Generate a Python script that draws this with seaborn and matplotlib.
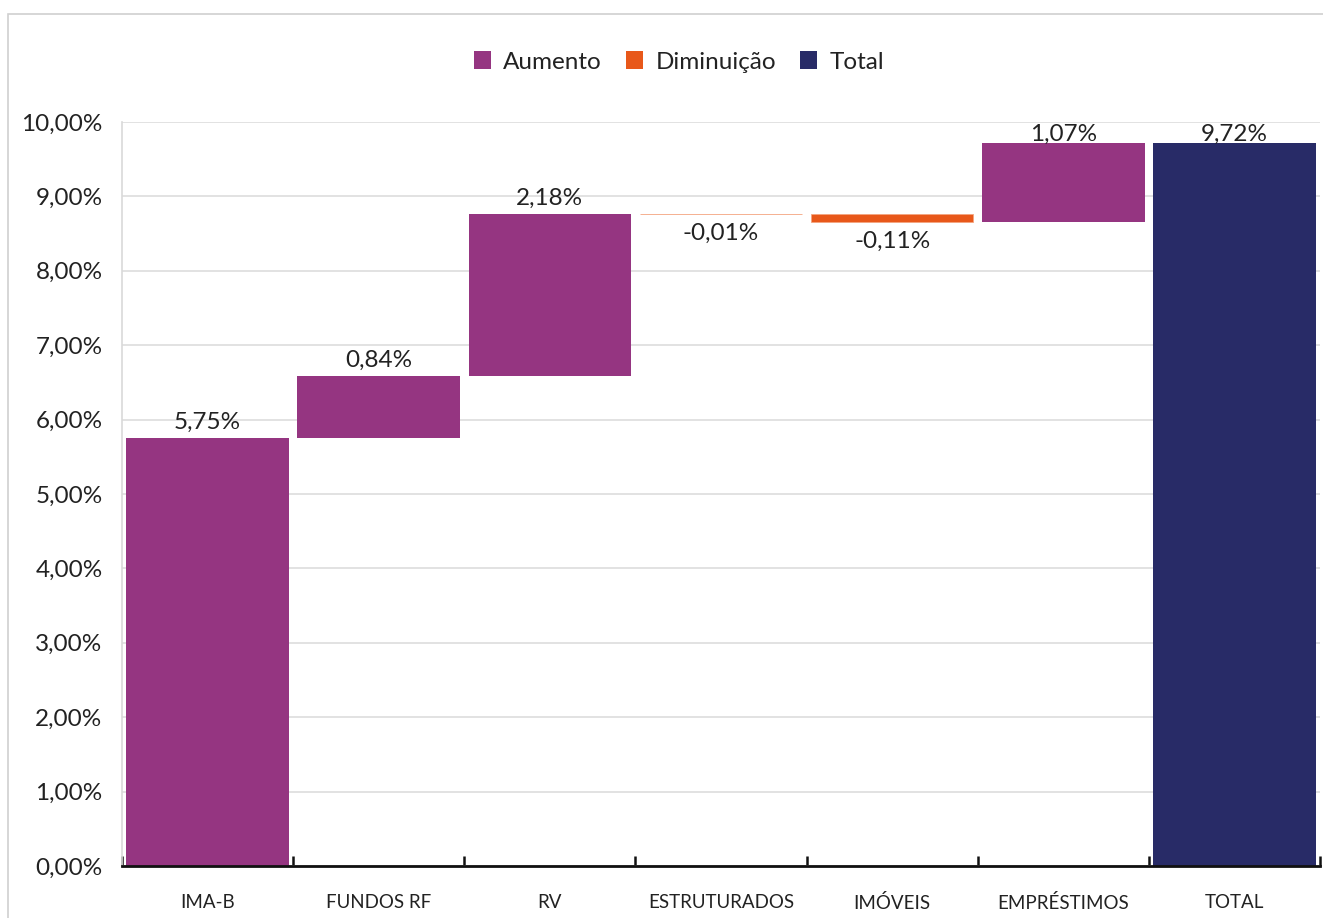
import matplotlib
matplotlib.use("Agg")
import matplotlib.pyplot as plt
import seaborn as sns
import pandas as pd
import numpy as np
from matplotlib.patches import Patch, Rectangle

categories = ["IMA-B", "FUNDOS RF", "RV", "ESTRUTURADOS", "IMÓVEIS", "EMPRÉSTIMOS", "TOTAL"]
changes = [5.75, 0.84, 2.18, -0.01, -0.11, 1.07]
total_value = 9.72
kinds = ["Aumento", "Aumento", "Aumento", "Diminuição", "Diminuição", "Aumento", "Total"]
value_labels = ["5,75%", "0,84%", "2,18%", "-0,01%", "-0,11%", "1,07%", "9,72%"]
y_ticks = [0, 1, 2, 3, 4, 5, 6, 7, 8, 9, 10]

colors = {"Aumento": "#953581", "Diminuição": "#E8581A", "Total": "#282B67"}

# build waterfall table
starts, heights = [], []
run = 0.0
for c in changes:
    starts.append(run if c >= 0 else run + c)
    heights.append(abs(c))
    run += c
starts.append(0.0)
heights.append(total_value)
df = pd.DataFrame({"cat": categories, "kind": kinds, "bottom": starts, "height": heights,
                   "signed": changes + [total_value]})

sns.set_theme(style="white")
plt.rcParams["font.family"] = ["Lato", "DejaVu Sans"]

fig = plt.figure(figsize=(13.23, 9.18), dpi=100)
W, H = 1323, 918
ax = fig.add_axes([122 / W, 1 - 866 / H, (1320 - 122) / W, (866 - 122) / H])

for kind in ["Aumento", "Diminuição", "Total"]:
    sub = df[df["kind"] == kind]
    lw = 0.6 if kind == "Diminuição" else 0
    sns.barplot(data=sub, x="cat", y="height", order=categories, color=colors[kind],
                saturation=1, width=0.95, errorbar=None, bottom=sub["bottom"].tolist(),
                linewidth=lw, edgecolor="#F4A47F" if kind == "Diminuição" else colors[kind],
                ax=ax, zorder=2)

ax.set_xlim(-0.5, len(categories) - 0.5)
ax.set_ylim(0, 10)
ax.set_yticks(y_ticks)
ax.set_yticklabels([f"{v:.2f}%".replace(".", ",") for v in y_ticks], fontsize=17.5, color="#222222")
ax.grid(axis="y", color="#dddddd", linewidth=1.2, zorder=0)
ax.set_axisbelow(True)
ax.tick_params(axis="y", length=0, pad=14)
ax.tick_params(axis="x", which="major", length=0, pad=20, labelsize=13.5, labelcolor="#222222")
ax.set_xticks(np.arange(-0.5, len(categories), 1.0), minor=True)
ax.tick_params(axis="x", which="minor", bottom=True, direction="in", length=7, width=1.8,
               color="#111111")
ax.set_xlabel("")
ax.set_ylabel("")
for s in ["top", "right"]:
    ax.spines[s].set_visible(False)
ax.spines["left"].set_color("#d9d9d9")
ax.spines["left"].set_linewidth(1.2)
ax.spines["bottom"].set_color("#111111")
ax.spines["bottom"].set_linewidth(2)
ax.spines["bottom"].set_zorder(5)

for i, row in df.iterrows():
    top = row["bottom"] + row["height"]
    if row["signed"] >= 0:
        y = min(top + 0.21, 9.83)
    else:
        y = row["bottom"] - 0.26
    ax.text(i, y, value_labels[i], ha="center", va="center", fontsize=17.5, color="#222222", zorder=6)

handles = [Patch(facecolor=colors[k], edgecolor="none", label=k) for k in ["Aumento", "Diminuição", "Total"]]
fig.legend(handles=handles, loc="center", bbox_to_anchor=(679 / W, 1 - 62 / H), ncol=3,
           frameon=False, fontsize=17.5, handlelength=0.7, handleheight=0.7,
           handletextpad=0.5, columnspacing=1.0, labelcolor="#222222")

fig.patches.append(Rectangle((8 / W, -0.1), 1.2, 1 - 14 / H + 0.1, transform=fig.transFigure,
                             fill=False, edgecolor="#d0d0d0", linewidth=1.2, zorder=0))

fig.savefig("out.png", dpi=100)
